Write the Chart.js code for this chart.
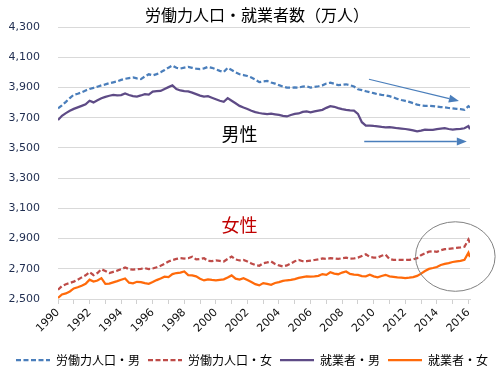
<!DOCTYPE html>
<html>
<head>
<meta charset="utf-8">
<script src="https://cdn.jsdelivr.net/npm/chart.js@4"></script>
<style>
html, body { margin: 0; padding: 0; background: #fff; }
</style>
</head>
<body>
<canvas id="laborChart" width="497" height="384"></canvas>
<script>
// 四半期ごとの時点 (1990年〜2016年)
const periods = [];
for (let yr = 1990; yr <= 2015; yr++) {
    for (let q = 0; q < 4; q++) periods.push(yr + q / 4);
}
periods.push(2016, 2016.1);

const yTicks = [2500, 2700, 2900, 3100, 3300, 3500, 3700, 3900, 4100, 4300];
const seriesNames = ['労働力人口・男', '労働力人口・女', '就業者・男', '就業者・女'];

// 労働力人口・男 (万人)
const labourMale = [
    3762, 3782, 3805, 3830, 3852, 3858, 3868, 3880,
    3890, 3897, 3905, 3914, 3920, 3928, 3934, 3940,
    3950, 3957, 3962, 3966, 3960, 3955, 3972, 3987,
    3980, 3988, 4000, 4015, 4031, 4045, 4030, 4025,
    4031, 4036, 4030, 4024, 4022, 4026, 4036, 4030,
    4020, 4010, 4002, 4030, 4015, 4000, 3987, 3982,
    3976, 3966, 3952, 3935, 3940, 3943, 3933, 3925,
    3915, 3906, 3899, 3898, 3900, 3899, 3906, 3908,
    3899, 3903, 3908, 3914, 3926, 3931, 3924, 3915,
    3918, 3921, 3915, 3906, 3888, 3882, 3875, 3868,
    3862, 3855, 3851, 3848, 3842, 3834, 3824, 3817,
    3811, 3804, 3796, 3786, 3781, 3778, 3779, 3777,
    3773, 3770, 3768, 3764, 3761, 3758, 3756, 3752,
    3776, 3768
];

// 労働力人口・女
const labourFemale = [
    2561, 2586, 2598, 2606, 2615, 2628, 2643, 2657,
    2678, 2658, 2672, 2697, 2685, 2672, 2680, 2688,
    2697, 2708, 2698, 2694, 2697, 2700, 2704, 2698,
    2702, 2710, 2720, 2732, 2748, 2758, 2765, 2770,
    2768, 2770, 2780, 2762, 2765, 2770, 2752, 2750,
    2755, 2752, 2748, 2765, 2781, 2762, 2755, 2758,
    2748, 2735, 2725, 2720, 2737, 2742, 2748, 2732,
    2722, 2715, 2722, 2735, 2750, 2758, 2750, 2750,
    2754, 2758, 2763, 2768, 2766, 2770, 2768, 2765,
    2770, 2774, 2767, 2768, 2774, 2785, 2796, 2778,
    2774, 2774, 2786, 2794, 2765, 2759, 2760, 2759,
    2758, 2759, 2762, 2770, 2790, 2802, 2813, 2816,
    2812, 2822, 2830, 2832, 2835, 2838, 2841, 2846,
    2893, 2870
];

// 就業者・男
const employedMale = [
    3684, 3712, 3730, 3745, 3758, 3768, 3778, 3788,
    3812, 3801, 3815, 3829, 3838, 3845, 3850, 3848,
    3849, 3860, 3850, 3843, 3840, 3847, 3855, 3852,
    3872, 3875, 3877, 3890, 3902, 3914, 3890, 3880,
    3875, 3874, 3866, 3856, 3846, 3840, 3842, 3832,
    3822, 3812, 3805, 3829, 3812, 3795, 3778, 3767,
    3757, 3746, 3737, 3731, 3726, 3724, 3726, 3722,
    3718, 3712, 3708, 3718, 3725, 3728, 3738, 3742,
    3735, 3742, 3747, 3752, 3765, 3776, 3772, 3763,
    3757, 3752, 3748, 3746, 3725, 3670, 3647, 3648,
    3645, 3643, 3639, 3636, 3637, 3634, 3630, 3628,
    3625, 3621, 3616, 3610, 3614, 3621, 3620, 3619,
    3624, 3627, 3630, 3625, 3621, 3624, 3626, 3630,
    3645, 3624
];

// 就業者・女
const employedFemale = [
    2507, 2530, 2537, 2550, 2570, 2578, 2588, 2600,
    2628, 2615, 2622, 2638, 2600, 2602, 2610, 2618,
    2627, 2636, 2608, 2604, 2614, 2612, 2605, 2601,
    2612, 2625, 2636, 2648, 2645, 2665, 2672, 2675,
    2682, 2658, 2656, 2650, 2634, 2623, 2630, 2626,
    2623, 2627, 2630, 2642, 2656, 2635, 2628, 2638,
    2625, 2612, 2598, 2590, 2605, 2600, 2594, 2606,
    2612, 2620, 2624, 2627, 2632, 2640, 2645, 2649,
    2648, 2650, 2653, 2665, 2660, 2677, 2668, 2664,
    2675, 2682, 2666, 2662, 2660, 2652, 2650, 2660,
    2650, 2643, 2652, 2660, 2650, 2647, 2643, 2641,
    2638, 2641, 2645, 2653, 2668, 2685, 2699, 2705,
    2712, 2725, 2732, 2738, 2745, 2749, 2752, 2759,
    2806, 2778
];

const FONT = "'DejaVu Sans', 'Noto Sans CJK JP', sans-serif";
const CJK = "'Noto Sans CJK JP', sans-serif";

function toPoints(values) {
    return periods.map((p, i) => ({ x: p, y: values[i] }));
}

// タイトル・注釈 (男性/女性・矢印・円)
const annotate = {
    id: 'annotate',
    afterDatasetsDraw(chart) {
        const ctx = chart.ctx;
        const xs = chart.scales.x;
        const ys = chart.scales.y;
        const px = v => xs.getPixelForValue(v);
        const py = v => ys.getPixelForValue(v);

        ctx.save();
        ctx.textAlign = 'center';
        ctx.textBaseline = 'middle';

        ctx.fillStyle = '#000';
        ctx.font = '16px ' + CJK;
        ctx.fillText('労働力人口・就業者数（万人）', 257, 15);

        ctx.font = '18px ' + CJK;
        ctx.fillText('男性', px(2001.5), py(3592));
        ctx.fillStyle = '#c00000';
        ctx.fillText('女性', px(2001.5), py(2989));

        function arrow(x1, y1, x2, y2, width) {
            const ax = px(x1), ay = py(y1), bx = px(x2), by = py(y2);
            const ang = Math.atan2(by - ay, bx - ax);
            const len = 10, half = 4;
            ctx.strokeStyle = '#4a7ebb';
            ctx.fillStyle = '#4a7ebb';
            ctx.lineWidth = width;
            ctx.beginPath();
            ctx.moveTo(ax, ay);
            ctx.lineTo(bx - Math.cos(ang) * len, by - Math.sin(ang) * len);
            ctx.stroke();
            ctx.beginPath();
            ctx.moveTo(bx, by);
            ctx.lineTo(bx - Math.cos(ang) * len - Math.sin(ang) * half, by - Math.sin(ang) * len + Math.cos(ang) * half);
            ctx.lineTo(bx - Math.cos(ang) * len + Math.sin(ang) * half, by - Math.sin(ang) * len - Math.cos(ang) * half);
            ctx.closePath();
            ctx.fill();
        }
        arrow(2009.7, 3954, 2015.4, 3811, 1.2);
        arrow(2009.4, 3542, 2015.9, 3542, 1.5);

        const cx = px(2015.17), cy = py(2781);
        ctx.strokeStyle = '#808080';
        ctx.lineWidth = 1;
        ctx.beginPath();
        ctx.ellipse(cx, cy, px(2017.69) - cx, cy - py(3011), 0, 0, Math.PI * 2);
        ctx.stroke();
        ctx.restore();
    }
};

const ctx = document.getElementById('laborChart').getContext('2d');
const laborChart = new Chart(ctx, {
    type: 'line',
    data: {
        datasets: [
            {
                label: seriesNames[0],
                data: toPoints(labourMale),
                borderColor: '#4a7ebb',
                backgroundColor: '#4a7ebb',
                borderWidth: 2.25,
                borderDash: [5, 2.5]
            },
            {
                label: seriesNames[1],
                data: toPoints(labourFemale),
                borderColor: '#be4b48',
                backgroundColor: '#be4b48',
                borderWidth: 2.25,
                borderDash: [5, 2.5]
            },
            {
                label: seriesNames[2],
                data: toPoints(employedMale),
                borderColor: '#5e4b86',
                backgroundColor: '#5e4b86',
                borderWidth: 2.25
            },
            {
                label: seriesNames[3],
                data: toPoints(employedFemale),
                borderColor: '#ff6a0a',
                backgroundColor: '#ff6a0a',
                borderWidth: 2.25
            }
        ]
    },
    options: {
        responsive: false,
        animation: false,
        devicePixelRatio: 1,
        layout: { padding: { left: 7, right: 0, top: 27, bottom: 8 } },
        elements: {
            point: { radius: 0 },
            line: { tension: 0 }
        },
        plugins: {
            title: { display: false },
            tooltip: { enabled: false },
            legend: {
                position: 'bottom',
                labels: {
                    usePointStyle: true,
                    pointStyle: 'line',
                    pointStyleWidth: 34,
                    boxHeight: 12,
                    padding: 8,
                    color: '#000',
                    font: { family: CJK, size: 12 },
                    generateLabels(chart) {
                        const items = Chart.defaults.plugins.legend.labels.generateLabels(chart);
                        items.forEach((item, i) => {
                            item.lineDash = chart.data.datasets[i].borderDash || [];
                            item.lineWidth = 2.25;
                        });
                        return items;
                    }
                }
            }
        },
        scales: {
            x: {
                type: 'linear',
                min: 1990,
                max: 2016.1,
                afterFit(scale) { scale.height = 47; },
                grid: {
                    drawOnChartArea: false,
                    drawTicks: true,
                    tickLength: 5,
                    tickColor: '#d0d0d0'
                },
                border: { display: true, color: '#d9d9d9' },
                ticks: {
                    stepSize: 1,
                    includeBounds: false,
                    autoSkip: false,
                    minRotation: 45,
                    maxRotation: 45,
                    padding: 2,
                    color: '#111',
                    font: { family: FONT, size: 11 },
                    callback: v => (v % 2 === 0 ? String(v) : '')
                }
            },
            y: {
                min: yTicks[0],
                max: yTicks[yTicks.length - 1],
                afterFit(scale) { scale.width = 51; },
                grid: { color: '#d9d9d9', drawTicks: false },
                border: { display: false },
                ticks: {
                    stepSize: 200,
                    padding: 18,
                    color: '#1f2d50',
                    font: { family: FONT, size: 11 },
                    callback: v => v.toLocaleString('en-US')
                }
            },
            yRight: {
                position: 'right',
                afterFit(scale) { scale.width = 27; },
                grid: { display: false },
                border: { display: false },
                ticks: { display: false }
            }
        }
    },
    plugins: [annotate]
});
</script>
</body>
</html>
